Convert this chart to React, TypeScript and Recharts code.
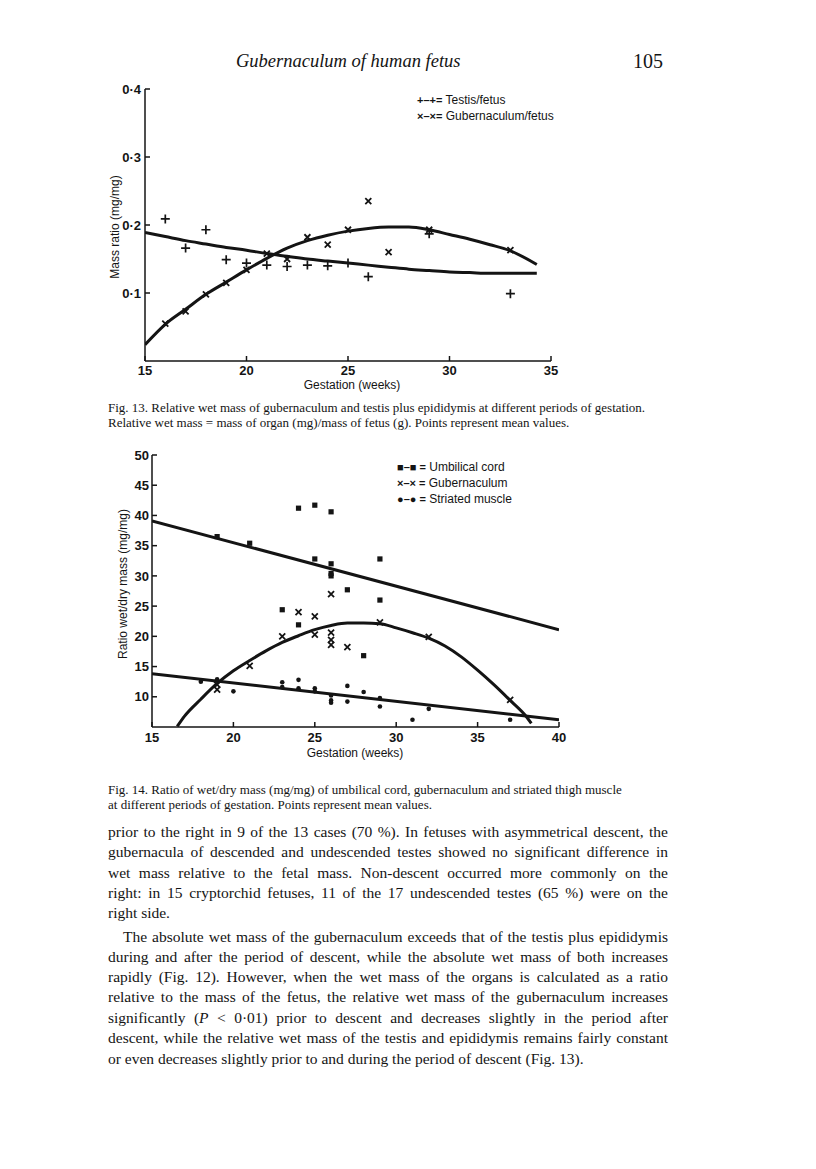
import React from 'react';
import { ComposedChart, Scatter, Line, XAxis, YAxis } from 'recharts';

// Fig. 13 -- relative wet mass, mean values
const testisWeeks = [16, 17, 18, 19, 20, 21, 22, 23, 24, 25, 26, 29, 33];
const testisRatio = [0.209, 0.166, 0.193, 0.149, 0.144, 0.141, 0.139, 0.141, 0.14, 0.144, 0.124, 0.187, 0.099];
const guberWeeks = [16, 17, 18, 19, 20, 21, 22, 23, 24, 25, 26, 27, 29, 33];
const guberRatio = [0.055, 0.073, 0.098, 0.115, 0.134, 0.158, 0.15, 0.182, 0.171, 0.193, 0.235, 0.16, 0.193, 0.163];

// fitted curves as drawn in the figure
const fitWeeks13 = [15, 16, 17, 18, 19, 20, 21, 22, 23, 24, 25, 26, 27, 28, 29, 30, 31, 32, 33, 34.3];
const testisFit = [0.189, 0.183, 0.177, 0.172, 0.167, 0.163, 0.158, 0.154, 0.15, 0.147, 0.144, 0.141, 0.138, 0.135, 0.133, 0.131, 0.13, 0.129, 0.129, 0.129];
const guberFit = [0.024, 0.054, 0.076, 0.098, 0.116, 0.134, 0.151, 0.166, 0.177, 0.185, 0.191, 0.195, 0.197, 0.197, 0.193, 0.186, 0.179, 0.171, 0.162, 0.142];

// Fig. 14 -- wet/dry ratio
const cordWeeks = [19, 21, 23, 24, 24, 25, 25, 26, 26, 26, 26, 27, 28, 29, 29];
const cordRatio = [36.5, 35.4, 24.4, 41.2, 21.9, 41.7, 32.8, 40.6, 32.0, 30.4, 30.0, 27.7, 16.8, 32.8, 26.0];
const gub14Weeks = [19, 19, 21, 23, 24, 25, 25, 26, 26, 26, 26, 27, 29, 32, 37];
const gub14Ratio = [12.0, 11.2, 15.1, 20.0, 24.0, 23.3, 20.3, 27.0, 20.6, 19.4, 18.6, 18.2, 22.3, 19.9, 9.5];
const muscleWeeks = [18, 19, 20, 23, 23, 24, 24, 25, 25, 26, 26, 26, 27, 27, 28, 29, 29, 31, 32, 37];
const muscleRatio = [12.5, 12.9, 10.9, 12.4, 11.6, 12.8, 11.4, 11.4, 10.9, 10.2, 9.4, 9.0, 11.8, 9.2, 10.8, 9.8, 8.4, 6.2, 8.0, 6.2];

const lineEnds14 = [15, 40];
const cordFit = [39.1, 21.1];
const muscleFit = [13.8, 6.2];
const gubFitWeeks = [16.55, 17, 18, 19, 20, 21, 22, 23, 24, 25, 26, 27, 28, 29, 30, 31, 32, 33, 34, 35, 36, 37, 38, 38.3];
const gubFit = [5.1, 6.8, 9.6, 12.2, 14.3, 16.0, 17.6, 19.0, 20.1, 21.1, 21.8, 22.2, 22.2, 22.1, 21.4, 20.6, 19.7, 18.4, 16.6, 14.4, 12.0, 9.4, 6.7, 5.6];

const ticks13x = [15, 20, 25, 30, 35];
const ticks13y = [0.1, 0.2, 0.3, 0.4];
const ticks14x = [15, 20, 25, 30, 35, 40];
const ticks14y = [10, 15, 20, 25, 30, 35, 40, 45, 50];

const zip = (w: number[], v: number[]) => w.map((week, i) => ({ week, value: v[i] }));

const INK = '#141414';
const SANS = '"Liberation Sans", Arial, sans-serif';
const SERIF = '"Liberation Serif", "Times New Roman", serif';

const Plus = (p: any) => (
  <path d={`M${p.cx - 4.5},${p.cy}h9M${p.cx},${p.cy - 4.5}v9`} stroke={INK} strokeWidth={1.7} />
);
const Cross = (p: any) => (
  <path d={`M${p.cx - 3},${p.cy - 3}l6,6M${p.cx + 3},${p.cy - 3}l-6,6`} stroke={INK} strokeWidth={1.8} />
);
const Square = (p: any) => <rect x={p.cx - 2.6} y={p.cy - 2.6} width={5.2} height={5.2} fill={INK} />;
const Dot = (p: any) => <circle cx={p.cx} cy={p.cy} r={2.3} fill={INK} />;

const tickStyle = { fontFamily: SANS, fontSize: 13, fontWeight: 700, fill: INK };
const axisStroke = { stroke: INK, strokeWidth: 1.5 };

const yTitle = (text: string, cx: number, cy: number) => () => (
  <text x={cx} y={cy} transform={`rotate(-90 ${cx} ${cy})`} textAnchor="middle" dominantBaseline="central"
    fontFamily={SANS} fontSize={12} fill={INK}>{text}</text>
);
const xTitle = (text: string, cx: number, cy: number) => () => (
  <text x={cx} y={cy} textAnchor="middle" dominantBaseline="central" fontFamily={SANS} fontSize={12} fill={INK}>{text}</text>
);

const dotComma = (v: number) => v.toFixed(1).replace('.', '\u00b7');

function Fig13() {
  return (
    <ComposedChart width={480} height={330} margin={{ top: 14, right: 19, bottom: 14, left: 15 }}>
      <XAxis dataKey="week" type="number" domain={[15, 35]} ticks={ticks13x} allowDataOverflow
        axisLine={axisStroke} tickLine={axisStroke} tickSize={-5} tickMargin={10} height={30}
        tick={tickStyle} label={xTitle('Gestation (weeks)', 262, 310)} />
      <YAxis type="number" domain={[0, 0.4]} ticks={ticks13y} width={40} tickFormatter={dotComma}
        axisLine={axisStroke} tickLine={axisStroke} tickSize={-5} tickMargin={9}
        tick={tickStyle} label={yTitle('Mass ratio (mg/mg)', 25, 152)} />
      <Line data={zip(fitWeeks13, testisFit)} dataKey="value" type="monotone" stroke={INK} strokeWidth={3}
        dot={false} activeDot={false} isAnimationActive={false} />
      <Line data={zip(fitWeeks13, guberFit)} dataKey="value" type="monotone" stroke={INK} strokeWidth={3}
        dot={false} activeDot={false} isAnimationActive={false} />
      <Scatter data={zip(testisWeeks, testisRatio)} dataKey="value" shape={Plus} isAnimationActive={false} />
      <Scatter data={zip(guberWeeks, guberRatio)} dataKey="value" shape={Cross} isAnimationActive={false} />
    </ComposedChart>
  );
}

function Fig14() {
  return (
    <ComposedChart width={480} height={330} margin={{ top: 15, right: 16, bottom: 13, left: 17 }}>
      <XAxis dataKey="week" type="number" domain={[15, 40]} ticks={ticks14x} allowDataOverflow
        axisLine={axisStroke} tickLine={axisStroke} tickSize={-5} tickMargin={11} height={30}
        tick={tickStyle} label={xTitle('Gestation (weeks)', 260, 313)} />
      <YAxis type="number" domain={[5, 50]} ticks={ticks14y} width={40} allowDataOverflow
        axisLine={axisStroke} tickLine={axisStroke} tickSize={-5} tickMargin={8}
        tick={tickStyle} label={yTitle('Ratio wet/dry mass (mg/mg)', 28, 144)} />
      <Line data={zip(lineEnds14, cordFit)} dataKey="value" type="linear" stroke={INK} strokeWidth={3}
        dot={false} activeDot={false} isAnimationActive={false} />
      <Line data={zip(lineEnds14, muscleFit)} dataKey="value" type="linear" stroke={INK} strokeWidth={3}
        dot={false} activeDot={false} isAnimationActive={false} />
      <Line data={zip(gubFitWeeks, gubFit)} dataKey="value" type="monotone" stroke={INK} strokeWidth={3}
        dot={false} activeDot={false} isAnimationActive={false} />
      <Scatter data={zip(cordWeeks, cordRatio)} dataKey="value" shape={Square} isAnimationActive={false} />
      <Scatter data={zip(gub14Weeks, gub14Ratio)} dataKey="value" shape={Cross} isAnimationActive={false} />
      <Scatter data={zip(muscleWeeks, muscleRatio)} dataKey="value" shape={Dot} isAnimationActive={false} />
    </ComposedChart>
  );
}

const abs = (left: number, top: number, extra: React.CSSProperties = {}): React.CSSProperties => ({
  position: 'absolute', left, top, ...extra,
});

const legendStyle: React.CSSProperties = { fontFamily: SANS, fontSize: 12, color: INK, lineHeight: '16px', whiteSpace: 'nowrap' };
const symStyle: React.CSSProperties = { fontSize: 11, fontWeight: 700 };

const para1 = [
  'prior to the right in 9 of the 13 cases (70 %). In fetuses with asymmetrical descent, the',
  'gubernacula of descended and undescended testes showed no significant difference in',
  'wet mass relative to the fetal mass. Non-descent occurred more commonly on the',
  'right: in 15 cryptorchid fetuses, 11 of the 17 undescended testes (65 %) were on the',
];
const para2 = [
  'The absolute wet mass of the gubernaculum exceeds that of the testis plus epididymis',
  'during and after the period of descent, while the absolute wet mass of both increases',
  'rapidly (Fig. 12). However, when the wet mass of the organs is calculated as a ratio',
  'relative to the mass of the fetus, the relative wet mass of the gubernaculum increases',
  null,
  'descent, while the relative wet mass of the testis and epididymis remains fairly constant',
];

const bodyStyle: React.CSSProperties = {
  fontFamily: SERIF, fontSize: 15.5, lineHeight: '20px', color: INK,
};

function JLine({ top, left = 108, width = 560, children }: any) {
  return (
    <div style={abs(left, top, { ...bodyStyle, width, textAlign: 'justify', textAlignLast: 'justify' })}>{children}</div>
  );
}

const captionStyle: React.CSSProperties = { fontFamily: SERIF, fontSize: 13, lineHeight: '15px', color: INK, whiteSpace: 'nowrap' };

export default function App() {
  const p1Tops = [822, 842, 863, 883];
  const p2Tops = [927, 947, 967, 987, 1008, 1028];
  return (
    <div style={{ position: 'absolute', left: 0, top: 0, width: 816, height: 1169, background: '#fff', overflow: 'hidden' }}>
      <div style={abs(236, 51, { fontFamily: SERIF, fontSize: 18.5, fontStyle: 'italic', color: INK, whiteSpace: 'nowrap' })}>
        Gubernaculum of human fetus
      </div>
      <div style={abs(633, 50, { fontFamily: SERIF, fontSize: 20, color: INK })}>105</div>

      <div style={abs(90, 75)}><Fig13 /></div>
      <div style={abs(417, 92, legendStyle)}>
        <div><span style={symStyle}>+–+=</span> Testis/fetus</div>
        <div><span style={symStyle}>×–×=</span> Gubernaculum/fetus</div>
      </div>

      <div style={abs(108, 400, captionStyle)}>
        <div>Fig. 13. Relative wet mass of gubernaculum and testis plus epididymis at different periods of gestation.</div>
        <div>Relative wet mass = mass of organ (mg)/mass of fetus (g). Points represent mean values.</div>
      </div>

      <div style={abs(95, 440)}><Fig14 /></div>
      <div style={abs(397, 459, legendStyle)}>
        <div><span style={symStyle}>■–■ =</span> Umbilical cord</div>
        <div><span style={symStyle}>×–× =</span> Gubernaculum</div>
        <div><span style={symStyle}>●–● =</span> Striated muscle</div>
      </div>

      <div style={abs(108, 782, captionStyle)}>
        <div>Fig. 14. Ratio of wet/dry mass (mg/mg) of umbilical cord, gubernaculum and striated thigh muscle</div>
        <div>at different periods of gestation. Points represent mean values.</div>
      </div>

      {para1.map((t, i) => <JLine key={'a' + i} top={p1Tops[i]}>{t}</JLine>)}
      <div style={abs(108, 903, bodyStyle)}>right side.</div>
      {para2.map((t, i) =>
        t === null ? (
          <JLine key={'b' + i} top={p2Tops[i]}>
            significantly (<i>P</i> &lt; 0·01) prior to descent and decreases slightly in the period after
          </JLine>
        ) : (
          <JLine key={'b' + i} top={p2Tops[i]} left={i === 0 ? 123 : 108} width={i === 0 ? 545 : 560}>{t}</JLine>
        )
      )}
      <div style={abs(108, 1049, bodyStyle)}>or even decreases slightly prior to and during the period of descent (Fig. 13).</div>
    </div>
  );
}
